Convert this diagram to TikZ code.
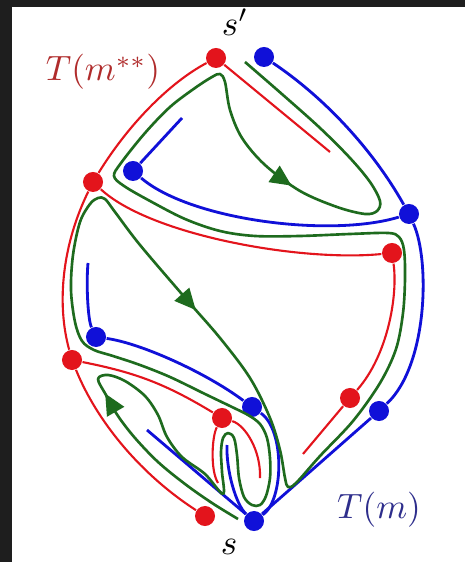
\documentclass[tikz,border=0pt]{standalone}
\usepackage{xcolor}
\definecolor{TreeRed}{HTML}{E3141C}
\definecolor{TreeBlue}{HTML}{1010D8}
\definecolor{PathGreen}{HTML}{1E6B1E}
\definecolor{LabelRed}{HTML}{B02C2C}
\definecolor{LabelBlue}{HTML}{2E2E8C}
\definecolor{FrameDark}{HTML}{1E1E1E}
\usepackage{tikz}
\usetikzlibrary{arrows.meta, decorations.markings}

\begin{document}
\begin{tikzpicture}[x=0.01cm, y=-0.01cm,
  rdot/.style={circle, fill=TreeRed, inner sep=0pt, minimum size=0.2cm},
  bdot/.style={circle, fill=TreeBlue, inner sep=0pt, minimum size=0.2cm},
  redge/.style={draw=TreeRed, line width=0.6pt},
  bedge/.style={draw=TreeBlue, line width=0.8pt},
  gpath/.style={color=PathGreen, line width=0.75pt, line join=round},
]
\useasboundingbox (0,0) rectangle (465,562);
\fill[FrameDark] (0,0) rectangle (465,562);
\fill[white] (12,7) rectangle (465,562);

% tree vertices
\foreach \n/\x/\y in {Rtop/216/58, Rl1/93/182, Rr1/392/253, Rl2/72/360,
                      Rr2/350/398, Rmid/222/418, Rbot/205/516}
  \node[rdot] (\n) at (\x,\y) {};
\foreach \n/\x/\y in {Btop/264/57, Bin1/133/171, Br1/409/214, Bin2/96/337,
                      Bmid/252/407, Br2/379/411, Bs/254/521}
  \node[bdot] (\n) at (\x,\y) {};

% loose ends
\coordinate (rTopEnd) at (330,152);
\coordinate (rRightEnd) at (303,454);
\coordinate (rLegL) at (218,483);
\coordinate (rLegR) at (260,478);
\coordinate (bInEnd1) at (182,118);
\coordinate (bInEnd2) at (88,263);
\coordinate (bHair) at (227,445);
\coordinate (bLowEnd) at (147,430);
\coordinate (gStart) at (238,519);
\coordinate (gEnd) at (245,62);

% red tree T(m**)
\draw[redge] (Rtop) .. controls (169,83) and (128,125) .. (Rl1);
\draw[redge] (Rl1) .. controls (63,243) and (56,302) .. (Rl2);
\draw[redge] (Rl2) .. controls (98,424) and (143,476) .. (Rbot);
\draw[redge] (Rtop) -- (rTopEnd);
\draw[redge] (Rl1) .. controls (150,235) and (300,262) .. (Rr1);
\draw[redge] (Rr1) .. controls (398,295) and (388,355) .. (Rr2);
\draw[redge] (Rr2) -- (rRightEnd);
\draw[redge] (Rl2) to[bend left=10] (Rmid);
\draw[redge] (Rmid) .. controls (212,436) and (210,470) .. (rLegL);
\draw[redge] (Rmid) .. controls (245,425) and (261,450) .. (rLegR);

% blue tree T(m)
\draw[bedge] (Btop) .. controls (325,98) and (373,150) .. (Br1);
\draw[bedge] (Br1) .. controls (430,260) and (428,365) .. (Br2);
\draw[bedge] (Br2) -- (Bs);
\draw[bedge] (Br1) .. controls (330,238) and (190,220) .. (Bin1);
\draw[bedge] (Bin1) -- (bInEnd1);
\draw[bedge] (Bin2) .. controls (88,320) and (86,285) .. (bInEnd2);
\draw[bedge] (Bin2) .. controls (140,343) and (205,372) .. (Bmid);
\draw[bedge] (Bmid) .. controls (285,430) and (284,500) .. (Bs);
\draw[bedge] (Bs) .. controls (236,505) and (226,470) .. (bHair);
\draw[bedge] (Bs) -- (bLowEnd);

% green path from s to s'
\draw[gpath, postaction={decorate}, decoration={markings,
    mark=at position 0.074 with {\arrow{Triangle[length=6pt,width=5.5pt]}},
    mark=at position 0.448 with {\arrow{Triangle[length=6pt,width=5.5pt]}},
    mark=at position 0.881 with {\arrow{Triangle[length=6pt,width=5.5pt]}}}]
  plot[smooth, tension=0.55] coordinates {
    (gStart) (212,503) (185,484) (158,462) (135,438) (118,416) (106,395)
    (98,379) (108,375) (125,381) (145,396) (158,415) (167,437) (182,457)
    (205,474) (223,494) (222,472) (221,452) (223,438) (228,433) (234,438)
    (237,455) (239,478) (244,497) (252,505) (260,505) (266,496) (270,478)
    (270,458) (267,438) (260,424) (248,415) (232,407) (205,394) (170,377)
    (140,365) (113,356) (94,350) (82,341) (75,322) (71,290) (73,255)
    (80,222) (90,204) (98,198) (105,199) (115,212) (140,245) (187,300)
    (220,338) (250,378) (270,418) (280,450) (285,478) (288,487) (296,483)
    (320,456) (353,421) (380,383) (396,349) (403,313) (405,278) (404,250)
    (399,237) (388,233) (350,234) (300,236) (255,236) (220,231) (185,219)
    (150,201) (124,186) (114,176) (121,163) (145,133) (170,107) (195,88)
    (212,77) (220,74) (225,82) (230,110) (242,138) (265,165) (300,191)
    (337,207) (365,214) (377,211) (380,201) (370,182) (350,158) (320,128)
    (283,95) (gEnd)};

% labels
\node[text=LabelRed] (lblRed) at (103,72) {$T(m^{**})$};
\node[text=LabelBlue] (lblBlue) at (379,510) {$T(m)$};
\node (lblS) at (229,547) {$s$};
\node (lblSp) at (235,22) {$s'$};
\end{tikzpicture}
\end{document}
